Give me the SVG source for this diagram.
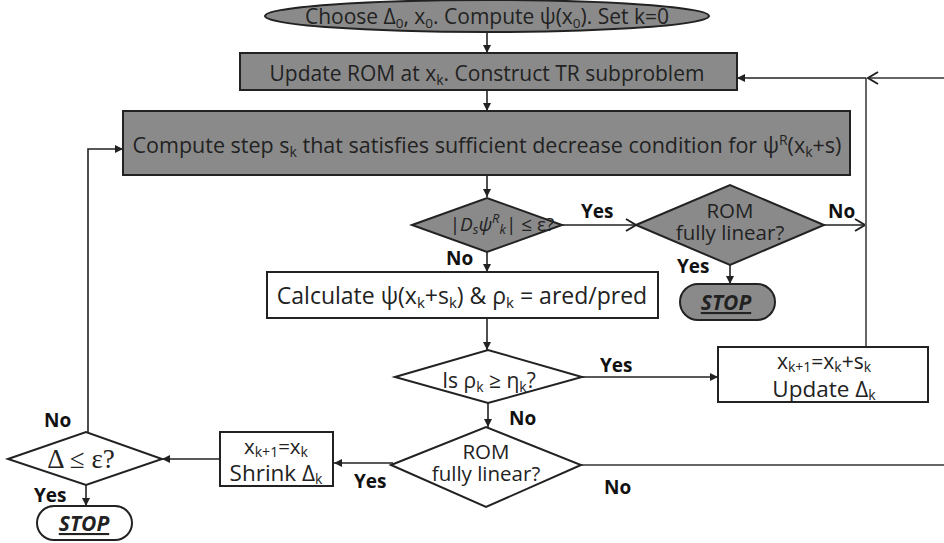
<svg xmlns="http://www.w3.org/2000/svg" width="944" height="543" viewBox="0 0 944 543">
  <defs>
    <style>
      .t { font-family: "Open Sans", "Liberation Sans", sans-serif; fill: #222; }
      .lb { font-family: "Open Sans", "Liberation Sans", sans-serif; font-weight: bold; font-size: 19px; fill: #111; }
      .stop { font-family: "Open Sans", "Liberation Sans", sans-serif; font-weight: bold; font-style: italic; font-size: 21px; fill: #222; text-decoration: underline; }
      .gray { fill: #8a8a8a; stroke: #222; stroke-width: 2; }
      .white { fill: #fff; stroke: #222; stroke-width: 2; }
      .ln { fill: none; stroke: #222; stroke-width: 1.6; }
      .lg { fill: none; stroke: #666; stroke-width: 2; }
    </style>
    <marker id="arr" markerWidth="10" markerHeight="10" refX="9" refY="5" orient="auto" markerUnits="userSpaceOnUse">
      <path d="M1,1 L9,5 L1,9 Z" fill="#222"/>
    </marker>
    <marker id="varr" markerWidth="14" markerHeight="14" refX="12" refY="7" orient="auto" markerUnits="userSpaceOnUse">
      <path d="M2,1 L12,7 L2,13" fill="none" stroke="#222" stroke-width="2"/>
    </marker>
  </defs>
  <rect width="944" height="543" fill="#fff"/>

  <!-- connectors -->
  <g id="connectors">
    <line class="ln" x1="487" y1="32" x2="487" y2="53" marker-end="url(#arr)"/>
    <line class="ln" x1="487" y1="90" x2="487" y2="111" marker-end="url(#arr)"/>
    <line class="ln" x1="487" y1="175" x2="487" y2="197" marker-end="url(#arr)"/>
    <line class="ln" x1="562" y1="225" x2="636" y2="225" marker-end="url(#varr)"/>
    <line class="ln" x1="824" y1="225" x2="865" y2="225" marker-end="url(#varr)"/>
    <line class="ln" x1="730" y1="265" x2="730" y2="284" marker-end="url(#arr)"/>
    <line class="ln" x1="487" y1="252" x2="487" y2="272" marker-end="url(#arr)"/>
    <line class="ln" x1="487" y1="318" x2="487" y2="350" marker-end="url(#arr)"/>
    <line class="ln" x1="582" y1="377" x2="718" y2="377" marker-end="url(#arr)"/>
    <line class="ln" x1="488" y1="403" x2="488" y2="427" marker-end="url(#arr)"/>
    <!-- loop back to the ROM update -->
    <line class="lg" x1="866" y1="347" x2="866" y2="78"/>
    <line class="lg" x1="944" y1="78" x2="868" y2="78" marker-end="url(#varr)"/>
    <line class="ln" x1="866" y1="78" x2="737" y2="78" marker-end="url(#arr)"/>
    <line class="lg" x1="581" y1="465" x2="944" y2="465"/>
    <!-- shrink branch -->
    <line class="ln" x1="393" y1="463" x2="334" y2="463" marker-end="url(#arr)"/>
    <line class="ln" x1="220" y1="459" x2="162" y2="459" marker-end="url(#arr)"/>
    <line class="ln" x1="86" y1="485" x2="86" y2="506" marker-end="url(#arr)"/>
    <polyline class="ln" points="88,432 88,149 123,149" marker-end="url(#arr)"/>
  </g>

  <g id="start">
    <ellipse class="gray" cx="487" cy="16" rx="222" ry="16"/>
    <text class="t" x="487" y="24" font-size="21" text-anchor="middle">Choose Δ<tspan font-size="13.5" dy="4">0</tspan><tspan dy="-4">, x</tspan><tspan font-size="13.5" dy="4">0</tspan><tspan dy="-4">. Compute ψ(x</tspan><tspan font-size="13.5" dy="4">0</tspan><tspan dy="-4">). Set k=0</tspan></text>
  </g>

  <g id="update-rom">
    <rect class="gray" x="240" y="53" width="497" height="37"/>
    <text class="t" x="487" y="81" font-size="21" text-anchor="middle">Update ROM at x<tspan font-size="14" dy="4">k</tspan><tspan dy="-4">. Construct TR subproblem</tspan></text>
  </g>

  <g id="compute-step">
    <rect class="gray" x="123" y="111" width="727" height="64"/>
    <text class="t" x="487" y="153" font-size="21.5" text-anchor="middle">Compute step s<tspan font-size="14" dy="4">k</tspan><tspan dy="-4"> that satisfies sufficient decrease condition for ψ</tspan><tspan font-size="14" dy="-8">R</tspan><tspan dy="8">(x</tspan><tspan font-size="14" dy="4">k</tspan><tspan dy="-4">+s)</tspan></text>
  </g>

  <g id="criticality">
    <polygon class="gray" points="412,225 487,198 562,225 487,252"/>
    <text class="t" x="502" y="231" font-size="19" text-anchor="middle">|<tspan font-style="italic">D</tspan><tspan font-style="italic" font-size="13" dy="3">s</tspan><tspan font-style="italic" dy="-3">ψ</tspan><tspan font-style="italic" font-size="13" dy="-8">R</tspan><tspan font-style="italic" font-size="13" dy="11">k</tspan><tspan dy="-3">| ≤ ε?</tspan></text>
  </g>

  <g id="rom-linear-1">
    <polygon class="gray" points="636,225 730,185 824,225 730,265"/>
    <text class="t" x="730" y="218" font-size="20.5" text-anchor="middle">ROM</text>
    <text class="t" x="730" y="240" font-size="20.5" text-anchor="middle">fully linear?</text>
  </g>

  <g id="stop-1">
    <rect class="gray" x="680" y="284" width="95" height="36" rx="18"/>
    <text class="stop" x="726" y="310" text-anchor="middle">STOP</text>
  </g>

  <g id="calculate">
    <rect class="white" x="267" y="272" width="391" height="46"/>
    <text class="t" x="462" y="304" font-size="23" text-anchor="middle">Calculate ψ(x<tspan font-size="15" dy="4">k</tspan><tspan dy="-4">+s</tspan><tspan font-size="15" dy="4">k</tspan><tspan dy="-4">) &amp; ρ</tspan><tspan font-size="15" dy="4">k</tspan><tspan dy="-4"> = ared/pred</tspan></text>
  </g>

  <g id="ratio-test">
    <polygon class="white" points="395,377 488,350 582,377 488,403"/>
    <text class="t" x="489" y="388" font-size="21" text-anchor="middle">Is ρ<tspan font-size="14" dy="4">k</tspan><tspan dy="-4"> ≥ η</tspan><tspan font-size="14" dy="4">k</tspan><tspan dy="-4">?</tspan></text>
  </g>

  <g id="accept-step">
    <rect class="white" x="718" y="347" width="210" height="55"/>
    <text class="t" x="824" y="369" font-size="21" text-anchor="middle">x<tspan font-size="14" dy="3">k+1</tspan><tspan dy="-3">=x</tspan><tspan font-size="14" dy="3">k</tspan><tspan dy="-3">+s</tspan><tspan font-size="14" dy="3">k</tspan></text>
    <text class="t" x="824" y="397" font-size="22.5" text-anchor="middle">Update Δ<tspan font-size="14" dy="3">k</tspan></text>
  </g>

  <g id="rom-linear-2">
    <polygon class="white" points="391,465 486,427 581,465 486,507"/>
    <text class="t" x="486" y="459" font-size="20.5" text-anchor="middle">ROM</text>
    <text class="t" x="486" y="481" font-size="20.5" text-anchor="middle">fully linear?</text>
  </g>

  <g id="shrink">
    <rect class="white" x="220" y="432" width="113" height="54"/>
    <text class="t" x="276" y="454" font-size="20.5" text-anchor="middle">x<tspan font-size="14" dy="3">k+1</tspan><tspan dy="-3">=x</tspan><tspan font-size="14" dy="3">k</tspan></text>
    <text class="t" x="276" y="481" font-size="22.5" text-anchor="middle">Shrink Δ<tspan font-size="14" dy="3">k</tspan></text>
  </g>

  <g id="radius-test">
    <polygon class="white" points="8,459 86,432 162,459 86,485"/>
    <text x="81" y="468" font-family="Liberation Serif, serif" font-size="27" fill="#222" text-anchor="middle">Δ ≤ ε?</text>
  </g>

  <g id="stop-2">
    <rect class="white" x="37" y="506" width="95" height="34" rx="17"/>
    <text class="stop" x="84" y="531" text-anchor="middle">STOP</text>
  </g>

  <g id="labels">
    <text class="lb" x="581" y="218">Yes</text>
    <text class="lb" x="828" y="218">No</text>
    <text class="lb" x="677" y="273">Yes</text>
    <text class="lb" x="446" y="265">No</text>
    <text class="lb" x="600" y="372">Yes</text>
    <text class="lb" x="509" y="425">No</text>
    <text class="lb" x="604" y="494">No</text>
    <text class="lb" x="354" y="488">Yes</text>
    <text class="lb" x="44" y="427">No</text>
    <text class="lb" x="34" y="502">Yes</text>
  </g>
</svg>
